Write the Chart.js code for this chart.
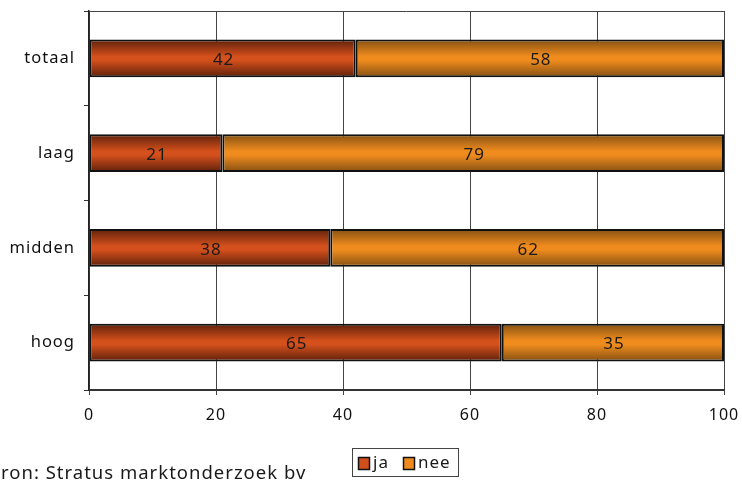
<!DOCTYPE html>
<html>
<head>
<meta charset="utf-8">
<script src="https://cdn.jsdelivr.net/npm/chart.js@4.4.1/dist/chart.umd.min.js"></script>
<style>
	body { margin: 0; background: #fff; }
	canvas { display: block; }
</style>
</head>
<body>
<canvas id="opleiding" width="742" height="481"></canvas>
<script>
// percentages per opleidingsniveau
var categories = ['totaal', 'laag', 'midden', 'hoog']
var ja = [42, 21, 38, 65]
var nee = [58, 79, 62, 35]
var xTicks = [0, 20, 40, 60, 80, 100]

var FONT = '"Noto Sans", "Open Sans", sans-serif'
var SPACING = '1px'
var BAR_PCT = 0.4

// vertical gradient: dark edges, bright middle
function barFill(dark, light) {
	return function (ctx) {
		var chart = ctx.chart
		var yScale = chart.scales.y
		if (!yScale || ctx.dataIndex === undefined) return light
		var y = yScale.getPixelForValue(ctx.dataIndex)
		var half = (yScale.height / categories.length) * BAR_PCT / 2
		if (!isFinite(y) || !isFinite(half) || half <= 0) return light
		var g = chart.ctx.createLinearGradient(0, y - half, 0, y + half)
		g.addColorStop(0, dark)
		g.addColorStop(0.45, light)
		g.addColorStop(0.55, light)
		g.addColorStop(1, dark)
		return g
	}
}

// wider letter spacing for all canvas text
var spacing = {
	id: 'spacing',
	beforeUpdate: function (chart) { chart.ctx.letterSpacing = SPACING },
	beforeDraw: function (chart) { chart.ctx.letterSpacing = SPACING }
}

// plot frame (top line) behind the bars
var frame = {
	id: 'frame',
	beforeDatasetsDraw: function (chart) {
		var a = chart.chartArea
		var c = chart.ctx
		c.save()
		c.strokeStyle = '#444'
		c.lineWidth = 1
		c.beginPath()
		c.moveTo(a.left, a.top + 0.5)
		c.lineTo(a.right, a.top + 0.5)
		c.stroke()
		c.restore()
	}
}

// numbers inside the bars
var barValues = {
	id: 'barValues',
	afterDatasetsDraw: function (chart) {
		var c = chart.ctx
		c.save()
		c.font = '17px ' + FONT
		c.fillStyle = '#1a1a1a'
		c.textAlign = 'center'
		c.textBaseline = 'middle'
		chart.data.datasets.forEach(function (ds, i) {
			chart.getDatasetMeta(i).data.forEach(function (el, j) {
				c.fillText(ds.data[j], (el.x + el.base) / 2 + 1, el.y + 2)
			})
		})
		c.restore()
	}
}

// legend box and source line
var footer = {
	id: 'footer',
	afterDraw: function (chart) {
		var c = chart.ctx
		c.save()
		c.strokeStyle = '#444'
		c.lineWidth = 1
		c.strokeRect(352.5, 448.5, 106, 28)

		c.font = '17px ' + FONT
		c.textBaseline = 'middle'
		c.textAlign = 'left'
		var items = [
			{ x: 358, label: 'ja', color: '#d24e1a' },
			{ x: 403, label: 'nee', color: '#ee8a1e' }
		]
		items.forEach(function (it) {
			c.fillStyle = it.color
			c.fillRect(it.x, 457, 11, 12)
			c.strokeStyle = '#111'
			c.lineWidth = 1.5
			c.strokeRect(it.x + 0.5, 457.5, 11, 12)
			c.fillStyle = '#1a1a1a'
			c.fillText(it.label, it.x + 15, 463)
		})

		c.font = '18.5px ' + FONT
		c.textBaseline = 'alphabetic'
		var src = 'Bron: Stratus marktonderzoek bv'
		var shift = c.measureText('B').width
		c.fillText(src, 1 - shift, 479)
		c.restore()
	}
}

new Chart(document.getElementById('opleiding').getContext('2d'), {
	type: 'bar',
	data: {
		labels: categories,
		datasets: [
			{
				label: 'ja',
				data: ja,
				backgroundColor: barFill('#5e200b', '#d4501c'),
				borderColor: '#111',
				borderWidth: 2,
				borderSkipped: false
			},
			{
				label: 'nee',
				data: nee,
				backgroundColor: barFill('#845012', '#f08c1e'),
				borderColor: '#111',
				borderWidth: 2,
				borderSkipped: false
			}
		]
	},
	options: {
		indexAxis: 'y',
		responsive: false,
		animation: false,
		layout: { padding: { left: 0, top: 11, right: 18, bottom: 0 } },
		datasets: {
			bar: { categoryPercentage: 1, barPercentage: BAR_PCT }
		},
		scales: {
			x: {
				stacked: true,
				min: 0,
				max: 100,
				afterBuildTicks: function (scale) {
					scale.ticks = xTicks.map(function (v) { return { value: v } })
				},
				afterFit: function (scale) {
					scale.height = 91
					scale.paddingLeft = 0
					scale.paddingRight = 0
				},
				grid: { color: '#444', lineWidth: 1, tickLength: 5 },
				border: { color: '#333', width: 2 },
				ticks: { color: '#111', font: { family: FONT, size: 16 }, padding: 11, maxRotation: 0 }
			},
			y: {
				stacked: true,
				afterFit: function (scale) {
					scale.width = 89
					scale.paddingTop = 0
					scale.paddingBottom = 0
				},
				grid: { offset: true, drawOnChartArea: false, color: '#333', tickLength: 5 },
				border: { color: '#222', width: 1.5 },
				ticks: { color: '#111', font: { family: FONT, size: 16.5 }, padding: 9 }
			}
		},
		plugins: {
			legend: { display: false },
			tooltip: { enabled: false }
		}
	},
	plugins: [spacing, frame, barValues, footer]
})
</script>
</body>
</html>
